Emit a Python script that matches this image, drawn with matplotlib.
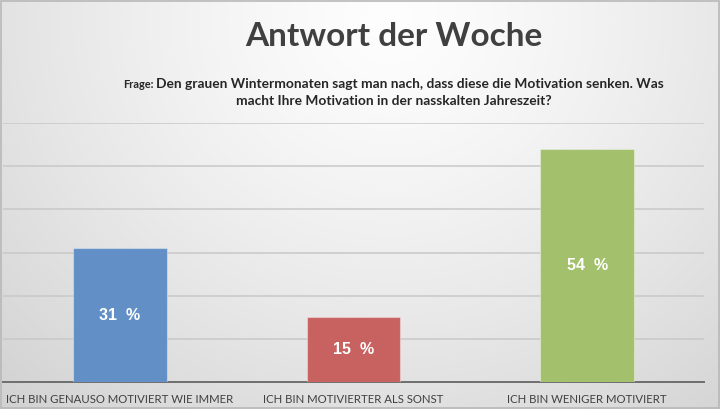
import numpy as np
import matplotlib
matplotlib.use("Agg")
import matplotlib.pyplot as plt

categories = ["ICH BIN GENAUSO MOTIVIERT WIE IMMER", "ICH BIN MOTIVIERTER ALS SONST", "ICH BIN WENIGER MOTIVIERT"]
values = [31, 15, 54]
bar_labels = ["31  %", "15  %", "54  %"]
colors = ["#6290C6", "#C86260", "#A3C16C"]
title = "Antwort der Woche"
question_prefix = "Frage:"
question_line1 = "Den grauen Wintermonaten sagt man nach, dass diese die Motivation senken. Was"
question_line2 = "macht Ihre Motivation in der nasskalten Jahreszeit?"

FONT = ["Lato", "DejaVu Sans"]
W, H = 720, 409
fig = plt.figure(figsize=(W/100, H/100), dpi=100)

# background radial gradient
bg = fig.add_axes([0, 0, 1, 1], zorder=-10)
yy, xx = np.mgrid[0:H, 0:W]
cx, cy = 390, 20
d = np.sqrt(((xx - cx) / 560.0) ** 2 + ((yy - cy) / 520.0) ** 2)
val = 0.995 - 0.17 * np.clip(d, 0, 1.3) ** 1.3
img = np.dstack([val, val, val])
bg.imshow(img, extent=[0, W, H, 0], aspect="auto", interpolation="bilinear")
bg.set_xlim(0, W); bg.set_ylim(H, 0)
bg.axis("off")
bg.add_patch(plt.Rectangle((0.5, 0.5), W - 1.5, H - 1.5, fill=False, ec="#b8b8b8", lw=1.2))

ax = fig.add_axes([3/W, 27/H, 701/W, 259/H])
ax.patch.set_alpha(0)
x = np.arange(len(categories))
ax.bar(x, values, width=0.4, color=colors, edgecolor=(1, 1, 1, 0.35), linewidth=0.8, zorder=3)
ax.set_xlim(-0.5, len(categories) - 0.5)
ax.set_ylim(0, 60)
ax.set_yticks(np.arange(10, 61, 10))
ax.yaxis.grid(True, color="#c8c8c8", lw=1.1, zorder=0)
ax.set_axisbelow(True)
for s in ["top", "right", "left"]:
    ax.spines[s].set_visible(False)
ax.spines["bottom"].set_color("#6e6e6e")
ax.spines["bottom"].set_linewidth(1.4)
ax.tick_params(left=False, labelleft=False, bottom=False)
ax.set_xticks(x)
ax.set_xticklabels(categories, fontsize=8.2, color="#404040", family=FONT)
ax.tick_params(axis="x", pad=5)

for xi, v, lab in zip(x, values, bar_labels):
    ax.text(xi, v / 2, lab, ha="center", va="center", color="white",
            fontsize=11.5, fontweight="bold", family=["Liberation Sans", "DejaVu Sans"], zorder=5)

fig.text(394/W, 1 - 37/H, title, ha="center", va="center", fontsize=24,
         fontweight="bold", color="#404040", family=FONT)

fs = 9.9
t1 = fig.text(410/W, 1 - 84/H, question_line1, ha="center", va="center", fontsize=fs,
              fontweight="bold", color="#262626", family=FONT)
fig.canvas.draw()
bb = t1.get_window_extent()
fig.text((bb.x0 - 3) / W, 1 - 84/H, question_prefix, ha="right", va="center", fontsize=fs * 0.8,
         fontweight="bold", color="#262626", family=FONT)
fig.text(394/W, 1 - 101/H, question_line2, ha="center", va="center", fontsize=fs,
         fontweight="bold", color="#262626", family=FONT)

fig.savefig("out.png", dpi=100)
